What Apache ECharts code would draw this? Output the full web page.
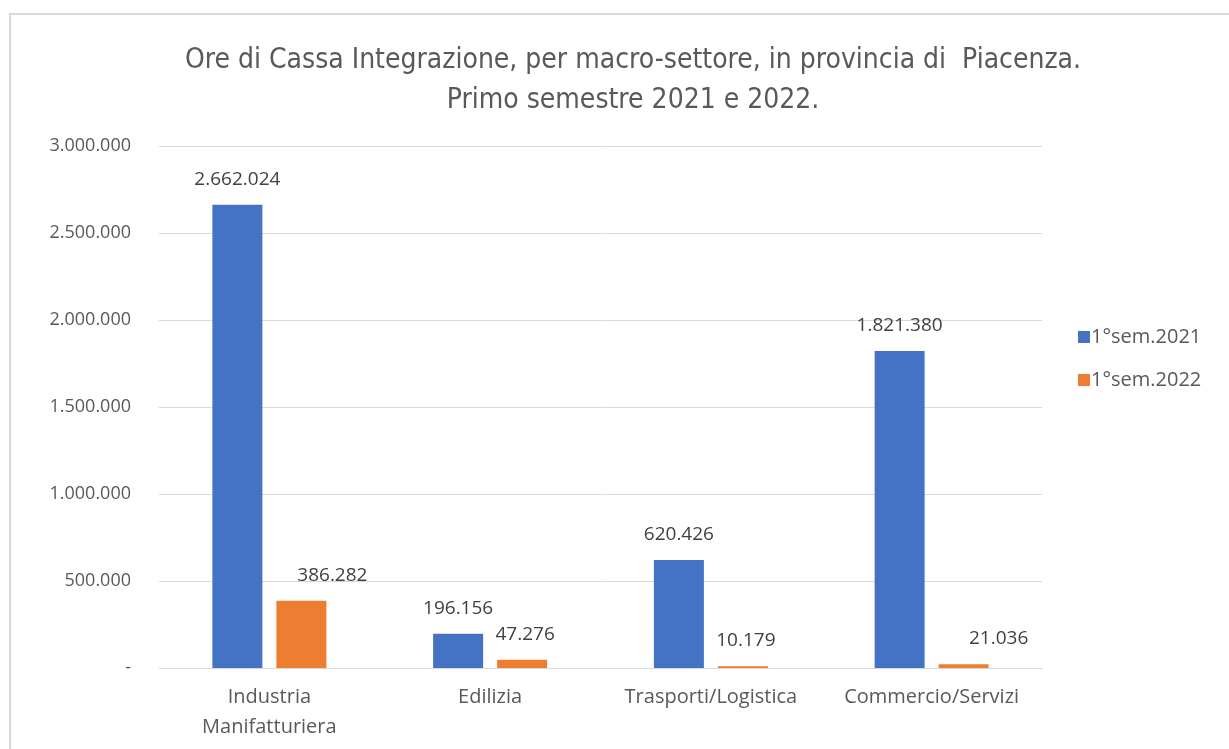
<!DOCTYPE html>
<html>
<head>
<meta charset="utf-8">
<script src="https://cdn.jsdelivr.net/npm/echarts@6/dist/echarts.min.js"></script>
<style>
  html, body { margin: 0; padding: 0; background: #fff; }
  #container { width: 1229px; height: 749px; }
</style>
</head>
<body>
<div id="container"></div>
<script>
var categories = ["Industria\nManifatturiera", "Edilizia", "Trasporti/Logistica", "Commercio/Servizi"];
var sem2021 = [2662024, 196156, 620426, 1821380];
var sem2022 = [386282, 47276, 10179, 21036];
var seriesNames = ["1°sem.2021", "1°sem.2022"];

var dom = document.getElementById("container");
var myChart = echarts.init(dom, null, { renderer: "canvas" });

// numbers with dot as thousands separator, like the original
function fmt(v) {
    if (v === 0) return "-";
    return String(v).replace(/\B(?=(\d{3})+(?!\d))/g, ".");
}

// label shifts of the orange series (moved by hand in the source)
var orangeShift = [31, 3, 3, 35];

var option = {
    animation: false,
    textStyle: { fontFamily: "Open Sans" },
    graphic: [{
        type: "rect",
        shape: { x: 10, y: 14, width: 1240, height: 760 },
        style: { fill: "none", stroke: "#d9d9d9", lineWidth: 2 }
    }],
    title: {
        text: "Ore di Cassa Integrazione, per macro-settore, in provincia di  Piacenza.\nPrimo semestre 2021 e 2022.",
        left: 628,
        textAlign: "center",
        top: 36,
        textStyle: {
            fontFamily: "'DejaVu Sans Condensed', 'Liberation Sans'",
            fontSize: 28,
            fontWeight: "normal",
            color: "#595959",
            lineHeight: 40
        }
    },
    legend: {
        orient: "vertical",
        left: 1073,
        top: 322,
        itemWidth: 12,
        itemHeight: 12,
        itemGap: 23,
        icon: "rect",
        textStyle: { fontSize: 20, color: "#595959", padding: [0, 0, 0, -4] },
        data: seriesNames
    },
    grid: {
        left: 159,
        right: 187,
        top: 146,
        bottom: 81
    },
    xAxis: {
        type: "category",
        data: categories,
        axisTick: { show: false },
        axisLine: { lineStyle: { color: "#d9d9d9", width: 1 } },
        axisLabel: {
            fontSize: 20,
            color: "#595959",
            lineHeight: 30,
            margin: 14,
            interval: 0
        }
    },
    yAxis: {
        type: "value",
        min: 0,
        max: 3000000,
        interval: 500000,
        axisLine: { show: false },
        axisTick: { show: false },
        splitLine: { lineStyle: { color: "#d9d9d9", width: 1 } },
        axisLabel: {
            fontSize: 18,
            color: "#595959",
            margin: 28,
            formatter: fmt
        }
    },
    series: [
        {
            name: seriesNames[0],
            type: "bar",
            barWidth: 50,
            barGap: "28%",
            itemStyle: { color: "#4472c4" },
            label: {
                show: true,
                position: "top",
                distance: 16,
                fontSize: 19,
                color: "#404040",
                formatter: function (p) { return fmt(p.value); }
            },
            data: sem2021
        },
        {
            name: seriesNames[1],
            type: "bar",
            barWidth: 50,
            itemStyle: { color: "#ed7d31" },
            label: {
                show: true,
                position: "top",
                distance: 16,
                fontSize: 19,
                color: "#404040",
                formatter: function (p) { return fmt(p.value); }
            },
            data: sem2022.map(function (v, i) {
                return { value: v, label: { offset: [orangeShift[i], 0] } };
            })
        }
    ]
};

if (option && typeof option === "object") {
    myChart.setOption(option);
}

window.addEventListener("resize", myChart.resize);
</script>
</body>
</html>
